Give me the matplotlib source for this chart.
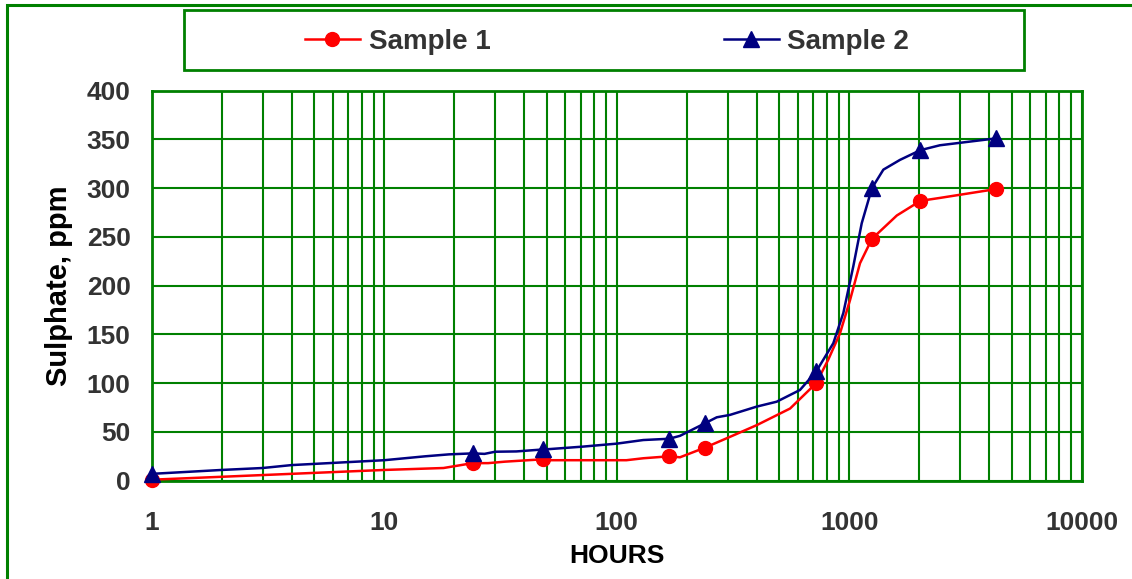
import matplotlib
matplotlib.use("Agg")
import matplotlib.pyplot as plt
from matplotlib.patches import Rectangle
from matplotlib.ticker import FixedLocator, FixedFormatter, LogLocator, NullFormatter

# sampling times that carry a marker (hours)
marker_hours = [1, 24, 48, 168, 240, 720, 1250, 2020, 4250]

# Sample 1 curve
s1_hours = [1, 2, 5, 10, 18, 24, 28, 33, 45, 48, 52, 110, 130, 168, 187,
            240, 307, 400, 556, 720, 811, 911, 1006, 1111, 1250, 1600, 2020,
            2450, 4250]
s1_vals = [1, 4, 8, 11, 13, 18, 18, 19.5, 21.5, 22, 21, 21, 23, 25, 24,
           34, 45, 57, 74, 100, 124, 151, 185, 223, 248, 272, 287,
           290, 299]

# Sample 2 curve
s2_hours = [1, 2, 3, 4, 10, 15, 19, 24, 27, 30, 37, 48, 52, 72, 100, 130,
            168, 187, 240, 269, 307, 400, 487, 613, 720, 853, 942, 1040, 1130,
            1250, 1400, 1650, 2020, 2450, 4250]
s2_vals = [7, 11, 13, 16, 21, 25, 27, 28, 27.5, 29.7, 30, 32, 32.5, 35, 38, 41.7,
           43, 46, 59, 65, 67.5, 76, 81, 93, 112, 141, 172, 220, 264,
           300, 319, 329, 339, 344, 351]

x_ticks = [1, 10, 100, 1000, 10000]
x_tick_labels = ["1", "10", "100", "1000", "10000"]
y_ticks = [0, 50, 100, 150, 200, 250, 300, 350, 400]

GREEN = "#008000"
TICK_GRAY = "#333333"
W, H = 1132, 579

plt.rcParams['font.family'] = ['Liberation Sans', 'DejaVu Sans']
plt.rcParams['font.weight'] = 'bold'

fig = plt.figure(figsize=(W / 100, H / 100), dpi=100)
ax = fig.add_axes([0.1339, 0.1698, 0.8219, 0.6736])

# outer chart border (only top and left are inside the picture)
fig.patches.append(Rectangle((7 / W, -0.05), 1.1, 1 - 5 / H + 0.05,
                             transform=fig.transFigure, fill=False,
                             edgecolor=GREEN, linewidth=2.2))
# legend box
fig.patches.append(Rectangle((184 / W, 1 - 70 / H), 840 / W, 60 / H,
                             transform=fig.transFigure, fill=False,
                             edgecolor=GREEN, linewidth=2))

ax.plot(s1_hours, s1_vals, color="#FF0000", linewidth=1.8, marker="o",
        markersize=10, markevery=[s1_hours.index(h) for h in marker_hours],
        label="Sample 1", zorder=3, clip_on=False)
ax.plot(s2_hours, s2_vals, color="#000080", linewidth=1.8, marker="^",
        markersize=11, markevery=[s2_hours.index(h) for h in marker_hours],
        label="Sample 2", zorder=4, clip_on=False)

ax.set_xscale("log")
ax.set_xlim(1, 10000)
ax.set_ylim(0, 400)
ax.xaxis.set_major_locator(FixedLocator(x_ticks))
ax.xaxis.set_major_formatter(FixedFormatter(x_tick_labels))
ax.xaxis.set_minor_locator(LogLocator(base=10, subs=range(2, 10)))
ax.xaxis.set_minor_formatter(NullFormatter())
ax.set_yticks(y_ticks)

ax.grid(True, which="both", axis="x", color=GREEN, linewidth=1.5)
ax.grid(True, which="major", axis="y", color=GREEN, linewidth=1.5)
ax.set_axisbelow(True)
for sp in ax.spines.values():
    sp.set_color(GREEN)
    sp.set_linewidth(2)

ax.tick_params(axis="both", which="both", length=0, labelsize=19,
               labelcolor=TICK_GRAY)
ax.tick_params(axis="x", pad=22)
ax.tick_params(axis="y", pad=15)
for lab in ax.get_xticklabels() + ax.get_yticklabels():
    lab.set_fontweight("bold")

ax.set_xlabel("HOURS", fontsize=19, fontweight="bold", labelpad=6)
ax.set_ylabel("Sulphate, ppm", fontsize=21, fontweight="bold", labelpad=10)

leg = fig.legend(loc="center", ncol=2,
                 bbox_to_anchor=(607 / W, 1 - 42 / H),
                 fontsize=20, handlelength=2.0, columnspacing=8.4,
                 handletextpad=0.3, frameon=False, borderpad=0)
for t in leg.get_texts():
    t.set_color(TICK_GRAY)
    t.set_fontweight("bold")

fig.savefig("out.png", dpi=100)
